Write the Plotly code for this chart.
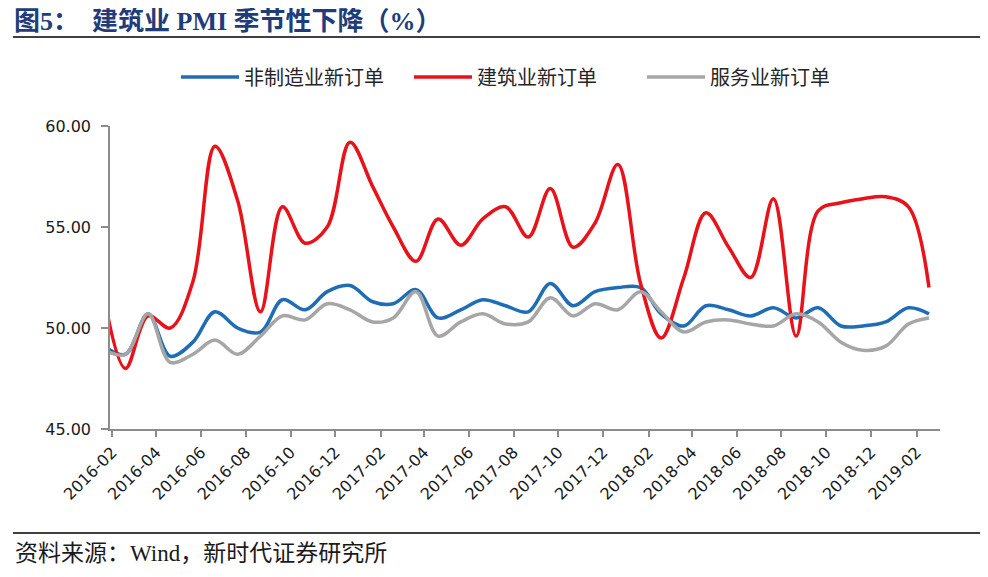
import pandas as pd
import plotly.graph_objects as go

# ---- data (monthly, 2016-01 .. 2019-02) ----
months = [f"{y}-{m:02d}" for y in (2016, 2017, 2018) for m in range(1, 13)] + ["2019-01", "2019-02"]

nonmfg_new_orders = [49.1, 48.7, 50.7, 48.6, 49.3, 50.8, 50.0, 49.8, 51.4, 50.9, 51.8, 52.1,
                     51.3, 51.2, 51.9, 50.5, 50.9, 51.4, 51.1, 50.8, 52.2, 51.1, 51.8, 52.0,
                     52.0, 50.7, 50.1, 51.1, 50.9, 50.6, 51.0, 50.5, 51.0, 50.1, 50.1, 50.3,
                     51.0, 50.7]
construction_new_orders = [51.5, 48.0, 50.6, 50.0, 52.3, 59.0, 56.3, 50.8, 56.0, 54.2, 55.0, 59.2,
                           57.0, 55.0, 53.3, 55.4, 54.1, 55.4, 56.0, 54.5, 56.9, 54.0, 55.2, 58.1,
                           52.2, 49.5, 52.5, 55.7, 54.0, 52.5, 56.4, 49.6, 55.8, 56.2, 56.4, 56.5,
                           56.0, 52.0]
services_new_orders = [48.9, 48.7, 50.7, 48.3, 48.7, 49.4, 48.7, 49.6, 50.6, 50.4, 51.2, 50.9,
                       50.3, 50.5, 51.8, 49.6, 50.3, 50.7, 50.2, 50.3, 51.5, 50.6, 51.2, 50.9,
                       51.8, 50.8, 49.8, 50.3, 50.4, 50.2, 50.1, 50.7, 50.3, 49.3, 48.9, 49.1,
                       50.2, 50.5]

series_names = ["非制造业新订单", "建筑业新订单", "服务业新订单"]
series_colors = ["#1F6DB5", "#E8121A", "#A6A6A6"]

tick_labels = ["2016-02", "2016-04", "2016-06", "2016-08", "2016-10", "2016-12",
               "2017-02", "2017-04", "2017-06", "2017-08", "2017-10", "2017-12",
               "2018-02", "2018-04", "2018-06", "2018-08", "2018-10", "2018-12", "2019-02"]
y_ticks = [45, 50, 55, 60]

NB = "\u00a0"
title_text = f"图5：{NB}{NB}建筑业{NB}PMI{NB}季节性下降（%）"
source_text = "资料来源：Wind，新时代证券研究所"

# month-end dates (Wind convention)
dates = (pd.to_datetime(months) + pd.offsets.MonthEnd(0)).strftime("%Y-%m-%d").tolist()
tick_vals = [t + "-11" for t in tick_labels]

fig = go.Figure()
for name, vals, col in zip(series_names,
                           [nonmfg_new_orders, construction_new_orders, services_new_orders],
                           series_colors):
    fig.add_trace(go.Scatter(x=dates, y=vals, name=name, mode="lines",
                             line=dict(color=col, width=3.5, shape="spline", smoothing=1.0)))

axis_col = "#8C8C8C"
tick_font = dict(family="DejaVu Sans", size=16, color="#1A1A1A")

# the page adds an 8px body margin, so the figure is laid out 8px up/left
OFF = 8
L, T, PW, PH = 110 - OFF, 126 - OFF, 830, 303

fig.update_layout(
    width=988, height=577,
    margin=dict(l=L, r=988 - L - PW, t=T, b=577 - T - PH),
    paper_bgcolor="white", plot_bgcolor="white",
    showlegend=True,
    legend=dict(orientation="h", x=(176 - 110) / PW, xanchor="left",
                y=1 + (126 - 77) / PH, yanchor="middle",
                font=dict(family="Noto Sans CJK SC", size=20, color="#262626"),
                bgcolor="rgba(0,0,0,0)", itemwidth=58,
                entrywidth=160, entrywidthmode="pixels"),
    title=dict(text=title_text, xref="container", yref="container",
               x=(14 - OFF) / 988, xanchor="left", y=1 - (20.5 - OFF) / 577, yanchor="middle",
               font=dict(family="Liberation Serif, Noto Sans CJK SC", size=26,
                         color="#1F3D7A", weight="bold")),
)

fig.update_xaxes(type="date", range=["2016-02-08", "2019-03-15"],
                 tickvals=tick_vals, ticktext=tick_labels, tickangle=-45,
                 showgrid=False, zeroline=False, automargin=False,
                 showline=True, linecolor=axis_col, linewidth=1.5,
                 ticks="outside", ticklen=6, tickwidth=1.5, tickcolor=axis_col,
                 tickfont=tick_font)
fig.update_yaxes(range=[45, 60], tickvals=y_ticks, tickformat=".2f",
                 showgrid=False, zeroline=False, automargin=False,
                 showline=True, linecolor=axis_col, linewidth=1.5,
                 ticks="outside", ticklen=7, tickwidth=1.5, tickcolor=axis_col,
                 ticklabelstandoff=7,
                 tickfont=tick_font)

# rules under title and above source
fig.add_shape(type="line", xref="paper", yref="paper",
              x0=(13 - 110) / PW, x1=(990 - 110) / PW,
              y0=1 + (126 - 37) / PH, y1=1 + (126 - 37) / PH,
              line=dict(color="black", width=1.5))
fig.add_shape(type="line", xref="paper", yref="paper",
              x0=(13 - 110) / PW, x1=(990 - 110) / PW,
              y0=(429 - 533) / PH, y1=(429 - 533) / PH,
              line=dict(color="black", width=1.5))

fig.add_annotation(text=source_text, xref="paper", yref="paper",
                   x=(13 - 110) / PW, xanchor="left",
                   y=(429 - 553) / PH, yanchor="middle", showarrow=False,
                   font=dict(family="Liberation Serif, Noto Sans CJK SC", size=23, color="#1A1A1A"))

fig.write_html("out.html")
